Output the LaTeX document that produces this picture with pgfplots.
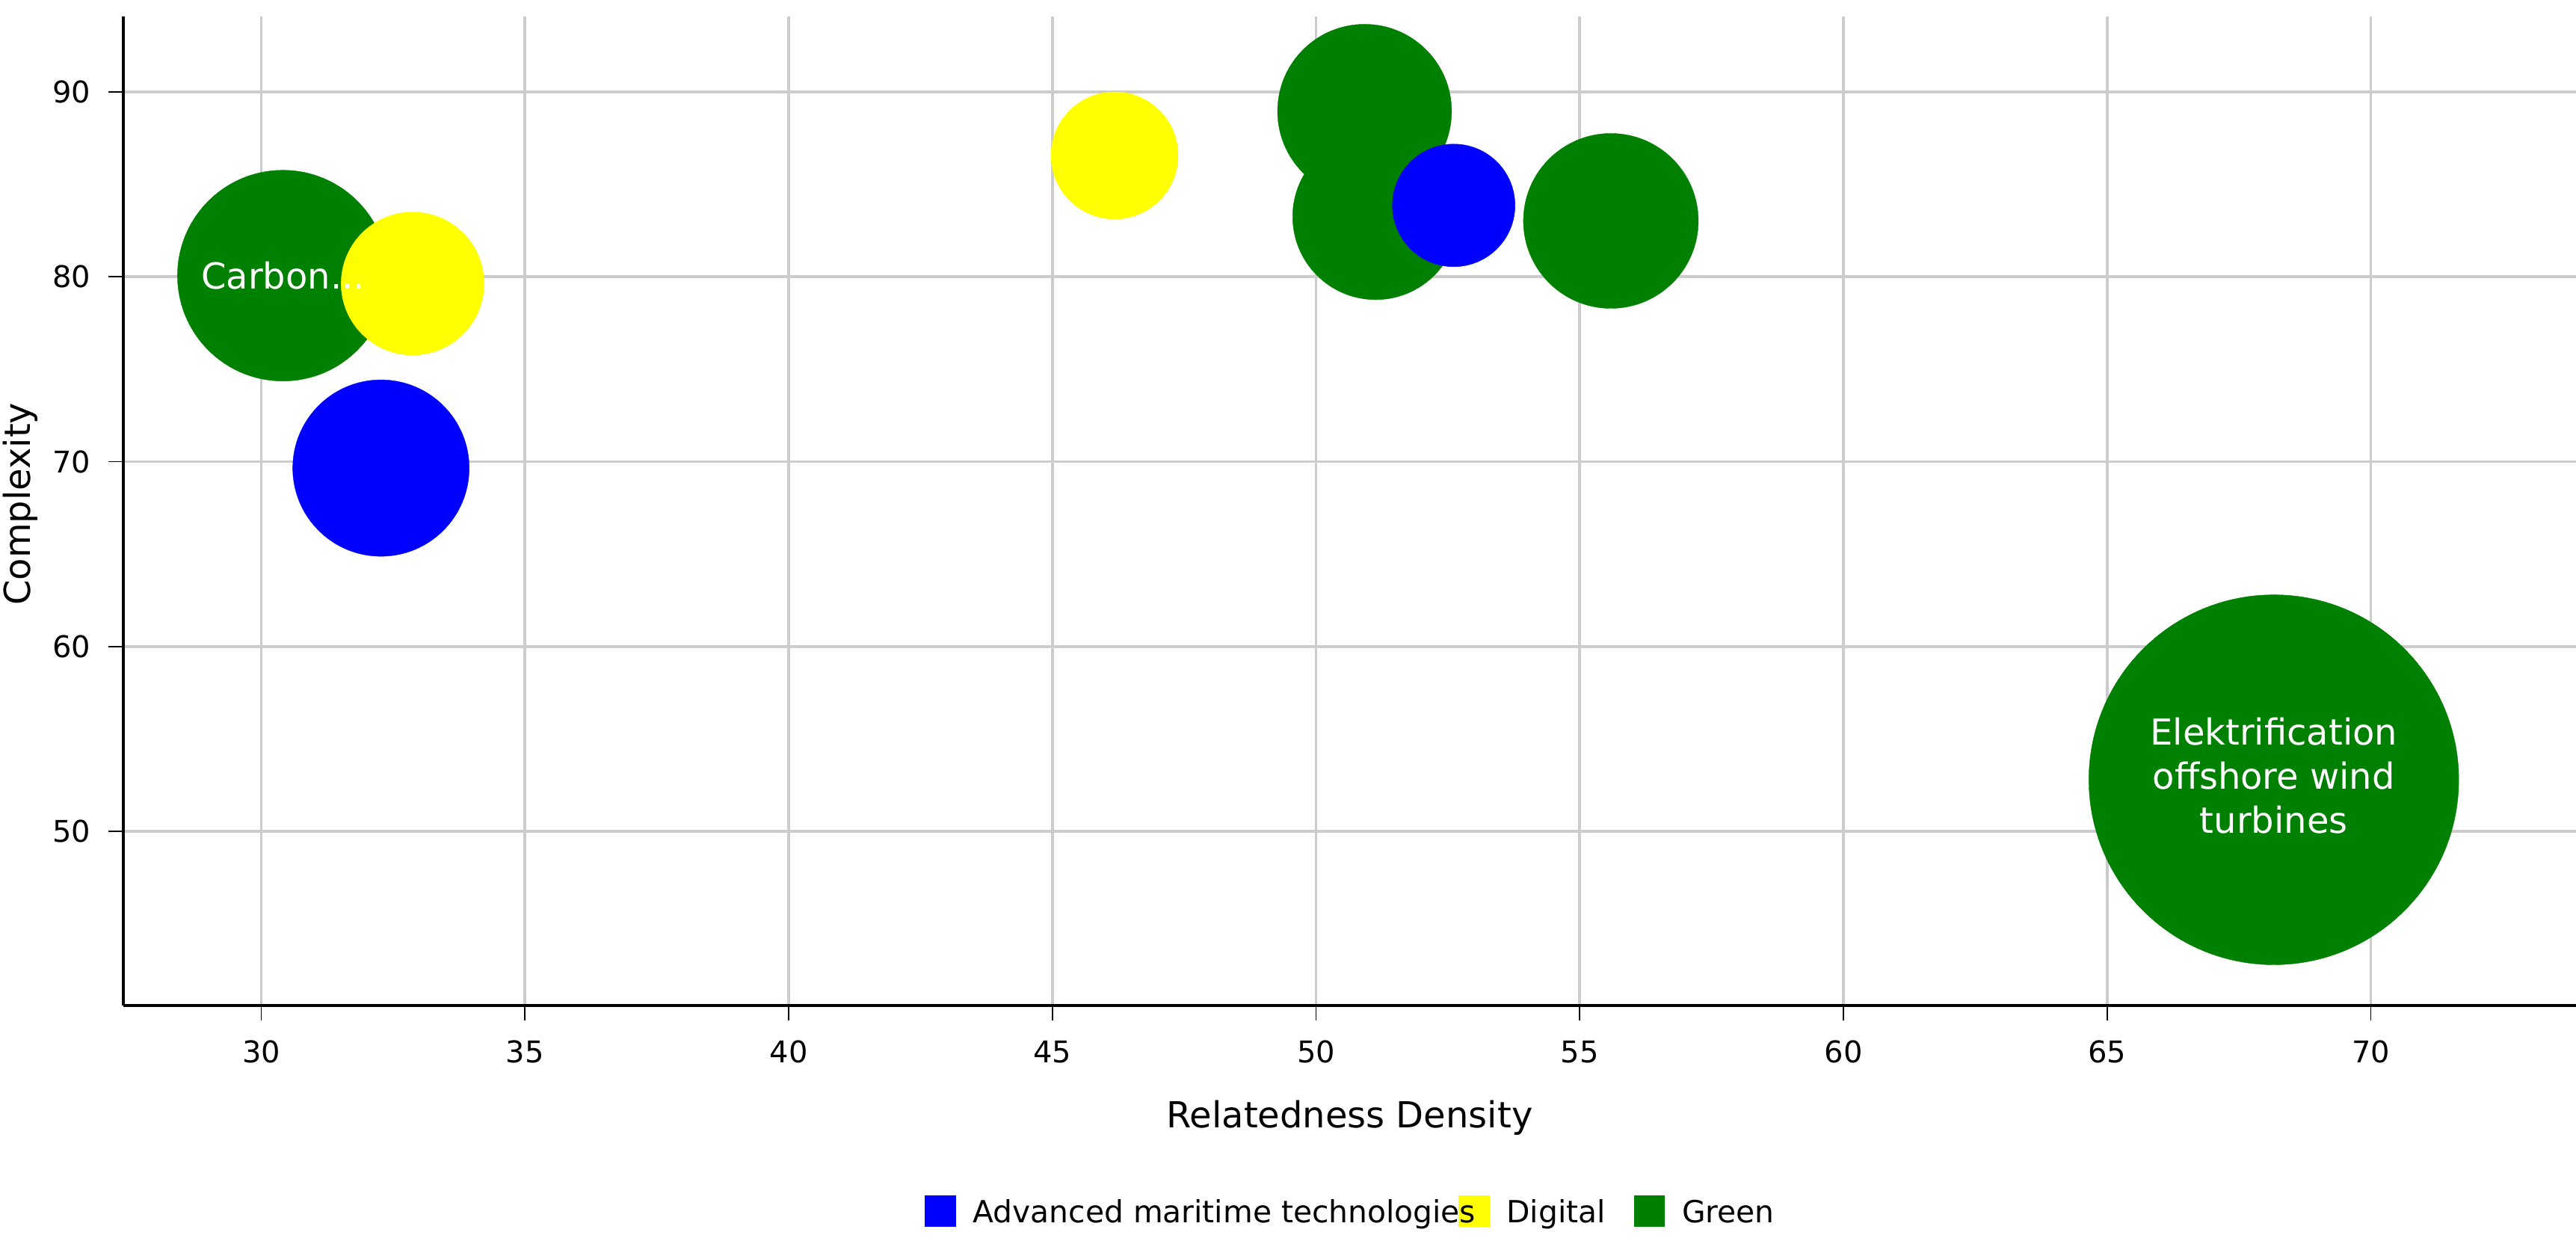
\documentclass[border=0pt]{standalone}
\usepackage{pgfplots}
\pgfplotsset{compat=1.18}
\usepackage{pgfplotstable}
\usepackage{fontspec}
\setmainfont{DejaVu Sans}
\definecolor{mblue}{HTML}{0000FF}
\definecolor{myellow}{HTML}{FFFF00}
\definecolor{mgreen}{HTML}{008000}
\definecolor{gridc}{HTML}{CCCCCC}

\pgfplotstableread{
x y r
30.41 80.06 35.25
50.92 88.95 29.1
51.13 83.25 27.75
55.59 83.02 29.25
68.16 52.79 61.85
}\greendata
\pgfplotstableread{
x y r
32.27 69.65 29.5
52.61 83.86 20.5
}\bluedata
\pgfplotstableread{
x y r
32.87 79.63 23.9
46.18 86.56 21.25
}\yellowdata

\begin{document}
\begin{tikzpicture}
\begin{axis}[
  width=820.25bp, height=330.75bp, scale only axis,
  xmin=27.385, xmax=73.89, ymin=40.58, ymax=94.08,
  axis lines=left, axis line style={-, black, line width=0.9bp},
  xtick={30,35,...,70}, ytick={50,60,...,90},
  tick align=outside, major tick length=5bp,
  tick style={black, line width=0.4bp},
  grid=major, major grid style={gridc, line width=0.9bp},
  /pgf/number format/assume math mode=true,
  ticklabel style={font=\fontsize{10bp}{12bp}\selectfont},
  xticklabel style={yshift=-3.3bp},
  yticklabel style={xshift=-2.5bp},
  xlabel={Relatedness Density}, ylabel={Complexity},
  every axis x label/.style={at={(rel axis cs:0.5,0)}, yshift=-40.75bp, anchor=base,
    font=\fontsize{12bp}{14bp}\selectfont},
  every axis y label/.style={at={(rel axis cs:0,0.507)}, xshift=-34.4bp, rotate=90, anchor=center,
    font=\fontsize{12bp}{14bp}\selectfont},
  legend columns=3,
  legend style={draw=none, fill=none, at={(0.5,0)}, anchor=center, yshift=-68.8bp,
    font=\fontsize{10.2bp}{12bp}\selectfont, nodes={inner sep=0pt},
    /tikz/column 1/.style={column sep=5.7bp},
    /tikz/column 2/.style={column sep=-5.75bp},
    /tikz/column 3/.style={column sep=5.7bp},
    /tikz/column 4/.style={column sep=9.5bp},
    /tikz/column 5/.style={column sep=5.7bp}},
]
\addplot[scatter, only marks, mark=*, scatter/use mapped color={draw=mgreen, fill=mgreen},
  mark options={line width=0.1bp},
  visualization depends on={\thisrow{r} \as \rad},
  scatter/@pre marker code/.append style={/tikz/mark size=\rad bp}, forget plot]
  table[x=x,y=y] {\greendata};
\addplot[scatter, only marks, mark=*, scatter/use mapped color={draw=mblue, fill=mblue},
  mark options={line width=0.1bp},
  visualization depends on={\thisrow{r} \as \rad},
  scatter/@pre marker code/.append style={/tikz/mark size=\rad bp}, forget plot]
  table[x=x,y=y] {\bluedata};
\addplot[scatter, only marks, mark=*, scatter/use mapped color={draw=myellow, fill=myellow},
  mark options={line width=0.1bp},
  visualization depends on={\thisrow{r} \as \rad},
  scatter/@pre marker code/.append style={/tikz/mark size=\rad bp}, forget plot]
  table[x=x,y=y] {\yellowdata};

\addlegendimage{legend image code/.code={\fill[mblue] (0bp,-4.2bp) rectangle (10bp,5.8bp);}}
\addlegendentry{Advanced maritime technologies}
\addlegendimage{legend image code/.code={\fill[myellow, blend mode=multiply] (0bp,-4.2bp) rectangle (10bp,5.8bp);}}
\addlegendentry{Digital}
\addlegendimage{legend image code/.code={\fill[mgreen] (0bp,-4.2bp) rectangle (10bp,5.8bp);}}
\addlegendentry{Green}

\coordinate (lab1) at (axis cs:30.41,80.06);
\coordinate (lab2) at (axis cs:68.16,53.0);
\end{axis}
\node[text=white, font=\fontsize{12bp}{14bp}\selectfont] at (lab1) {Carbon...};
\node[text=white, font=\fontsize{12bp}{14.75bp}\selectfont, align=center] at (lab2) {Elektrification\\offshore wind\\turbines};
\pgfresetboundingbox
\path[use as bounding box] (current axis.south west) ++(-41.25bp,-77.75bp) rectangle ([yshift=5.5bp]current axis.north east);
\end{tikzpicture}
\end{document}
